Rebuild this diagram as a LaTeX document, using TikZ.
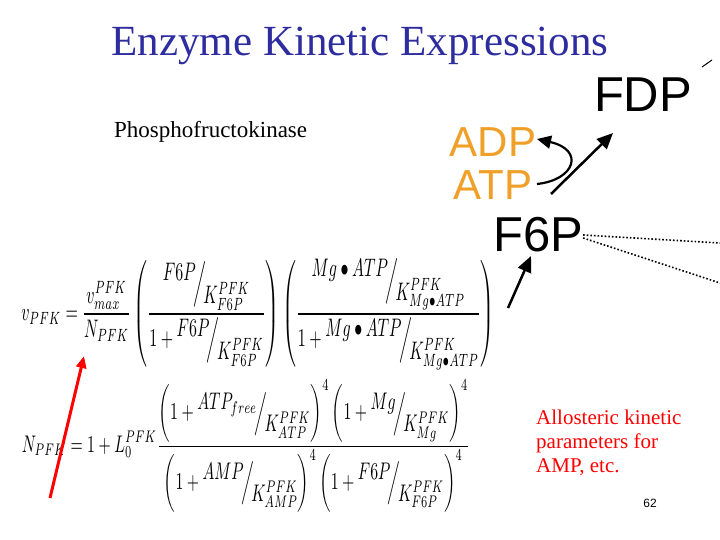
\documentclass[tikz,border=0pt]{standalone}
\usepackage{fontspec}
\usepackage{amsmath}
\usepackage{graphicx}
\setmainfont{Liberation Serif}
\newfontfamily\arial{Liberation Sans}
\usetikzlibrary{arrows.meta}
\newcommand{\slf}[2]{\raisebox{0.9ex}{$#1$}\!\Big/\!\raisebox{-1.1ex}{$#2$}}
\newcommand{\KK}[1]{K^{PFK}_{#1}}
\definecolor{titleblue}{RGB}{45,45,160}
\definecolor{chemorange}{RGB}{240,160,40}
\begin{document}
\begin{tikzpicture}[x=1pt,y=-1pt,
  chem/.style={font=\arial\fontsize{49}{49}\selectfont, inner sep=0pt},
  arr/.style={line width=2.5pt,-{Triangle[length=16pt,width=14pt]}}]
\useasboundingbox (0,0) rectangle (720,540);
\fill[white] (0,0) rectangle (720,540);
\node[text=titleblue, font=\fontsize{43}{43}\selectfont, inner sep=0pt] (title) at (360,46) {Enzyme Kinetic Expressions};
\node[anchor=west, font=\fontsize{23}{23}\selectfont, inner sep=0pt] (pfk) at (114,132) {Phosphofructokinase};
\node[chem] (fdp) at (643,95) {FDP};
\node[chem, text=chemorange, font=\arial\fontsize{42}{42}\selectfont] (adp) at (493,142) {ADP};
\node[chem, text=chemorange, font=\arial\fontsize{42}{42}\selectfont] (atp) at (493,185) {ATP};
\node[chem] (f6p) at (538,235) {F6P};
\coordinate (a1) at (508,308); \coordinate (a2) at (531,256);
\draw[arr] (a1) -- (a2);
\coordinate (b1) at (551,194); \coordinate (b2) at (613,133);
\draw[arr] (b1) -- (b2);
\coordinate (c1) at (537,184); \coordinate (c2) at (537,139);
\draw[line width=2.2pt,-{Triangle[length=14pt,width=13pt]}] (c1) .. controls (575,180) and (585,150) .. (c2);
\coordinate (d1) at (720,243); \coordinate (d2) at (720,283);
\draw[dotted, line width=1.6pt] (f6p.east) -- (d1);
\draw[dotted, line width=1.6pt] ([yshift=-3pt]f6p.east) -- (d2);
\coordinate (t1) at (712,60); \coordinate (t2) at (702,67);
\draw[line width=1pt] (t1) -- (t2);
\node[inner sep=0pt] (eq1) at (258,314) {\resizebox*{473pt}{112pt}{$\displaystyle v_{PFK}=\frac{v^{PFK}_{max}}{N_{PFK}}\left(\frac{\slf{F6P}{\KK{F6P}}}{1+\slf{F6P}{\KK{F6P}}}\right)\left(\frac{\slf{Mg\bullet ATP}{\KK{Mg\bullet ATP}}}{1+\slf{Mg\bullet ATP}{\KK{Mg\bullet ATP}}}\right)$}};
\node[inner sep=0pt] (eq2) at (246,446) {\resizebox*{448pt}{132pt}{$\displaystyle N_{PFK}=1+L^{PFK}_0\frac{\left(1+\slf{ATP_{free}}{\KK{ATP}}\right)^4\left(1+\slf{Mg}{\KK{Mg}}\right)^4}{\left(1+\slf{AMP}{\KK{AMP}}\right)^4\left(1+\slf{F6P}{\KK{F6P}}\right)^4}$}};
\coordinate (r1) at (50,498); \coordinate (r2) at (84,356);
\draw[red, line width=3pt, -{Triangle[length=12pt,width=10pt]}] (r1) -- (r2);
\node[anchor=north west, text=red, align=left, font=\fontsize{21}{24}\selectfont, inner sep=0pt] (allo) at (536,410) {Allosteric kinetic\\parameters for\\AMP, etc.};
\node[font=\arial\fontsize{12}{12}\selectfont, inner sep=0pt] (num) at (650,503) {62};
\end{tikzpicture}
\end{document}
